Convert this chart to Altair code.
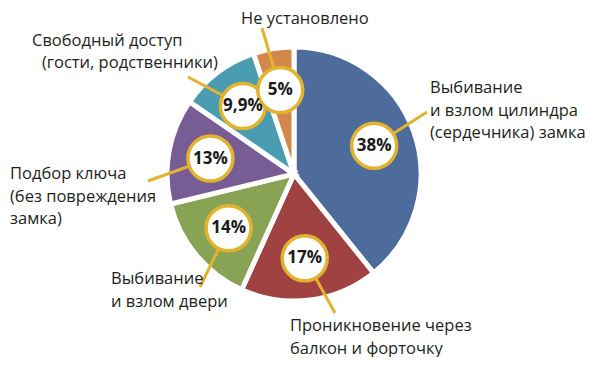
import altair as alt
import pandas as pd

# ---- data ----
CATEGORIES = [
    "Выбивание и взлом цилиндра (сердечника) замка",
    "Проникновение через балкон и форточку",
    "Выбивание и взлом двери",
    "Подбор ключа (без повреждения замка)",
    "Свободный доступ (гости, родственники)",
    "Не установлено",
]
VALUES = [38, 17, 14, 13, 9.9, 5]
PCT_LABELS = ["38%", "17%", "14%", "13%", "9,9%", "5%"]
LABEL_LINES = [
    ["Выбивание", "и взлом цилиндра", "(сердечника) замка"],
    ["Проникновение через", "балкон и форточку"],
    ["Выбивание", "и взлом двери"],
    ["Подбор ключа", "(без повреждения", "замка)"],
    ["Свободный доступ", "(гости, родственники)"],
    ["Не установлено"],
]

# ---- style / layout ----
COLORS = ["#4d6c9c", "#a04242", "#88a353", "#785c94", "#4a9cb1", "#d3874b"]
GOLD = "#e2b32e"
FONT = "Open Sans"
W, H = 581, 349
CX, CY = 286, 166            # pie centre in plot pixels
R_OUT, R_BADGE = 127, 85
LINE_H = 22.5
# leader end points and label anchors (pixel offsets from pie centre, y up)
LEADER_END = [(133, 62), (41, -139), (-94, -113), (-146, -7), (-106, 97), (-32, 146)]
LABEL_ANCHOR = [
    [(136, 86)],
    [(-4, -152)],
    [(-183, -105)],
    [(-284, 0)],
    [(-262, 133), (-252, 111)],
    [(-53, 155)],
]

slices = pd.DataFrame({
    "category": CATEGORIES,
    "value": VALUES,
    "pct": PCT_LABELS,
    "order": list(range(len(VALUES))),
    "ex": [p[0] for p in LEADER_END],
    "ey": [p[1] for p in LEADER_END],
})

rows = []
for lines, anchors in zip(LABEL_LINES, LABEL_ANCHOR):
    for i, t in enumerate(lines):
        if i < len(anchors):
            ax, ay = anchors[i]
        else:
            ax, ay = anchors[0][0], anchors[0][1] - LINE_H * i
        rows.append({"text": t, "lx": ax, "ly": ay})
labels = pd.DataFrame(rows)

xs = alt.Scale(domain=[-CX, W - CX], nice=False, zero=False)
ys = alt.Scale(domain=[CY - H, CY], nice=False, zero=False)

arcs = alt.Chart(slices).mark_arc(
    outerRadius=R_OUT, stroke="white", strokeWidth=5
).encode(
    theta=alt.Theta("value:Q", stack=True),
    color=alt.Color("category:N", scale=alt.Scale(domain=CATEGORIES, range=COLORS), legend=None),
    order=alt.Order("order:Q"),
    x=alt.value(CX),
    y=alt.value(CY),
)

polar = alt.Chart(slices).transform_joinaggregate(
    total="sum(value)"
).transform_window(
    cum="sum(value)", sort=[alt.SortField("order")], frame=[None, 0]
).transform_calculate(
    mid="(datum.cum - datum.value/2) / datum.total * 2 * PI",
    cx=f"{R_BADGE} * sin(datum.mid)",
    cy=f"{R_BADGE} * cos(datum.mid)",
)

leaders = polar.mark_rule(color=GOLD, strokeWidth=3).encode(
    x=alt.X("cx:Q", scale=xs, axis=None),
    y=alt.Y("cy:Q", scale=ys, axis=None),
    x2="ex:Q",
    y2="ey:Q",
)

badges = polar.mark_point(
    shape="circle", filled=False, fill="white", fillOpacity=1,
    stroke=GOLD, strokeWidth=3.5, size=2025, opacity=1
).encode(
    x=alt.X("cx:Q", scale=xs, axis=None),
    y=alt.Y("cy:Q", scale=ys, axis=None),
)

pct = polar.mark_text(
    font=FONT, fontWeight="bold", fontSize=17, color="#1a1a1a", baseline="middle"
).encode(
    x=alt.X("cx:Q", scale=xs, axis=None),
    y=alt.Y("cy:Q", scale=ys, axis=None),
    text="pct:N",
)

texts = alt.Chart(labels).mark_text(
    font=FONT, fontSize=16.5, color="#231f20", align="left", baseline="middle"
).encode(
    x=alt.X("lx:Q", scale=xs, axis=None),
    y=alt.Y("ly:Q", scale=ys, axis=None),
    text="text:N",
)

chart = alt.layer(arcs, leaders, badges, pct, texts).properties(
    width=W, height=H, autosize=alt.AutoSizeParams(type="none"), padding=0
).configure_view(strokeWidth=0)

chart.save("out.html", embed_options={"renderer": "svg", "actions": False})
